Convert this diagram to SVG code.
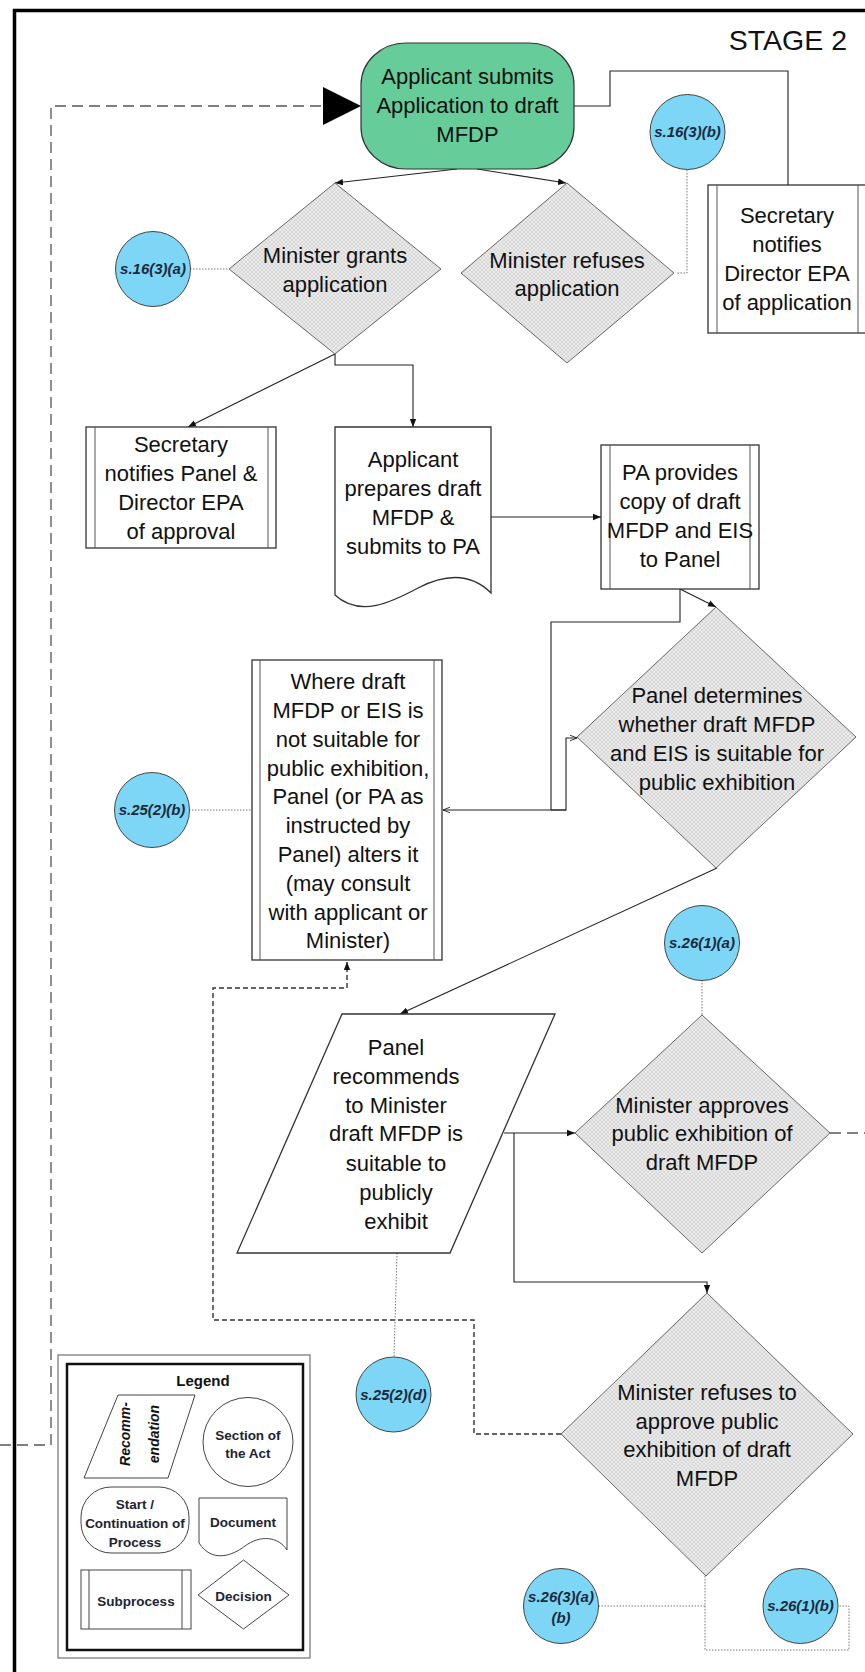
<svg xmlns="http://www.w3.org/2000/svg" width="865" height="1672" viewBox="0 0 865 1672">
<style>
.t{font-family:"Liberation Sans",Arial,sans-serif;font-size:22px;fill:#111;text-anchor:middle}
.sec{font-family:"Liberation Sans",Arial,sans-serif;font-size:15px;font-weight:bold;font-style:italic;fill:#1c2b3c;text-anchor:middle}
.lg{font-family:"Liberation Sans",Arial,sans-serif;font-size:13.5px;font-weight:bold;fill:#1c2435;text-anchor:middle}
.box{fill:#fff;stroke:#333;stroke-width:1.3}
.inner{stroke:#555;stroke-width:1;fill:none}
.dec{fill:url(#hatch);stroke:#666;stroke-width:1}
.circ{fill:#7ED6F7;stroke:#444;stroke-width:1}
.c{fill:none;stroke:#222;stroke-width:1.1}
.dot{fill:none;stroke:#777;stroke-width:1;stroke-dasharray:1.5 1.5}
.dashL{fill:none;stroke:#555;stroke-width:1.3;stroke-dasharray:11 6}
.dashS{fill:none;stroke:#333;stroke-width:1.4;stroke-dasharray:5 3}
</style>
<defs>
<pattern id="hatch" width="4" height="4" patternUnits="userSpaceOnUse">
<rect width="4" height="4" fill="#ebebeb"/>
<path d="M0,0 L4,4 M4,0 L0,4" stroke="#d0d0d0" stroke-width="0.7"/>
</pattern>
<marker id="arr" viewBox="0 0 10 10" refX="10" refY="5" markerWidth="8" markerHeight="8" markerUnits="userSpaceOnUse" orient="auto"><path d="M0,1 L10,5 L0,9 Z" fill="#111"/></marker>
<marker id="open" viewBox="0 0 10 10" refX="10" refY="5" markerWidth="7" markerHeight="7" markerUnits="userSpaceOnUse" orient="auto"><path d="M0,1 L10,5 L0,9" fill="none" stroke="#111" stroke-width="1.2"/></marker>
<marker id="big" viewBox="0 0 10 10" refX="10" refY="5" markerWidth="38" markerHeight="38" markerUnits="userSpaceOnUse" orient="auto"><path d="M0,0 L10,5 L0,10 Z" fill="#000"/></marker>
</defs>
<rect width="865" height="1672" fill="#fff"/>
<path d="M14.5,1672 V10.5 H866" fill="none" stroke="#000" stroke-width="3.5"/>
<text x="847" y="50" style="font-family:'Liberation Sans',Arial,sans-serif;font-size:28.5px;fill:#111;text-anchor:end">STAGE 2</text>

<g id="connectors">
<path class="dashL" d="M0,1445 H51 V106 H361" marker-end="url(#big)"/>
<path class="dashL" d="M830,1133 H866"/>
<path class="dashS" d="M561,1434 H474 V1320 H213 V988 H347 V962" marker-end="url(#arr)"/>
<path class="c" d="M457,169 L335,183" marker-end="url(#arr)"/>
<path class="c" d="M477,169 L566,183" marker-end="url(#arr)"/>
<path class="c" d="M574,106 H610 V71 H788 V185"/>
<path class="c" d="M335,354 L188,427" marker-end="url(#arr)"/>
<path class="c" d="M335,354 V365 H413 V427" marker-end="url(#arr)"/>
<path class="c" d="M491,517 H601" marker-end="url(#arr)"/>
<path class="c" d="M680,589 L716,607" marker-end="url(#arr)"/>
<path class="c" d="M680,589 V622 H551 V810"/>
<path class="c" d="M551,810 H566 V738 H577" marker-end="url(#open)"/>
<path class="c" d="M566,810 H443" marker-end="url(#open)"/>
<path class="c" d="M717,868 L400,1014" marker-end="url(#arr)"/>
<path class="c" d="M504,1133 H575" marker-end="url(#arr)"/>
<path class="c" d="M514,1133 V1282 H707 V1293" marker-end="url(#arr)"/>
<path class="dot" d="M190,269 H229"/>
<path class="dot" d="M687,170 V273 H676"/>
<path class="dot" d="M189,810 H252"/>
<path class="dot" d="M702,980 V1015"/>
<path class="dot" d="M397,1253 L394,1357"/>
<path class="dot" d="M705,1606 H599"/>
<path class="dot" d="M705,1576 V1650 H849 V1606 H838"/>
</g>

<g id="start">
<rect x="361" y="43" width="213" height="126" rx="45" ry="42" fill="#66CC99" stroke="#333" stroke-width="1.2"/>
<text class="t" x="467.5" y="84">Applicant submits</text>
<text class="t" x="467.5" y="113">Application to draft</text>
<text class="t" x="467.5" y="142">MFDP</text>
</g>

<g id="sec-notifies-epa">
<rect class="box" x="708" y="185" width="162" height="148"/>
<path class="inner" d="M717,185 V333 M858,185 V333"/>
<text class="t" x="787" y="223">Secretary</text>
<text class="t" x="787" y="252">notifies</text>
<text class="t" x="787" y="281">Director EPA</text>
<text class="t" x="787" y="310">of application</text>
</g>

<g id="s16-3-b">
<circle class="circ" cx="687.5" cy="132" r="37.5"/>
<text class="sec" x="687.5" y="137">s.16(3)(b)</text>
</g>

<g id="minister-grants">
<polygon class="dec" points="335,183 441,269 335,354 229,269"/>
<text class="t" x="335" y="263">Minister grants</text>
<text class="t" x="335" y="292">application</text>
</g>

<g id="minister-refuses">
<polygon class="dec" points="567,183 674,273 567,363 461,273"/>
<text class="t" x="567" y="268">Minister refuses</text>
<text class="t" x="567" y="296">application</text>
</g>

<g id="s16-3-a">
<circle class="circ" cx="153" cy="269" r="37.5"/>
<text class="sec" x="153" y="274">s.16(3)(a)</text>
</g>

<g id="sec-notifies-panel">
<rect class="box" x="86" y="427" width="190" height="121"/>
<path class="inner" d="M95,427 V548 M268,427 V548"/>
<text class="t" x="181" y="452">Secretary</text>
<text class="t" x="181" y="481">notifies Panel &amp;</text>
<text class="t" x="181" y="510">Director EPA</text>
<text class="t" x="181" y="539">of approval</text>
</g>

<g id="applicant-prepares">
<path class="box" d="M335,427 H491 V593 C470,572 445,574 418,588 C392,602 360,618 335,595 Z"/>
<text class="t" x="413" y="467">Applicant</text>
<text class="t" x="413" y="496">prepares draft</text>
<text class="t" x="413" y="525">MFDP &amp;</text>
<text class="t" x="413" y="554">submits to PA</text>
</g>

<g id="pa-provides">
<rect class="box" x="601" y="445" width="158" height="144"/>
<path class="inner" d="M610,445 V589 M750,445 V589"/>
<text class="t" x="680" y="480">PA provides</text>
<text class="t" x="680" y="509">copy of draft</text>
<text class="t" x="680" y="538">MFDP and EIS</text>
<text class="t" x="680" y="567">to Panel</text>
</g>

<g id="panel-determines">
<polygon class="dec" points="716,607 856,737 716,868 577,737"/>
<text class="t" x="717" y="703">Panel determines</text>
<text class="t" x="717" y="732">whether draft MFDP</text>
<text class="t" x="717" y="761">and EIS is suitable for</text>
<text class="t" x="717" y="790">public exhibition</text>
</g>

<g id="where-draft">
<rect class="box" x="252" y="660" width="190" height="300"/>
<path class="inner" d="M260,660 V960 M434,660 V960"/>
<text class="t" x="348" y="689">Where draft</text>
<text class="t" x="348" y="718">MFDP or EIS is</text>
<text class="t" x="348" y="747">not suitable for</text>
<text class="t" x="348" y="776">public exhibition,</text>
<text class="t" x="348" y="804">Panel (or PA as</text>
<text class="t" x="348" y="833">instructed by</text>
<text class="t" x="348" y="862">Panel) alters it</text>
<text class="t" x="348" y="891">(may consult</text>
<text class="t" x="348" y="920">with applicant or</text>
<text class="t" x="348" y="948">Minister)</text>
</g>

<g id="s25-2-b">
<circle class="circ" cx="152" cy="810" r="37.5"/>
<text class="sec" x="152" y="815">s.25(2)(b)</text>
</g>

<g id="s26-1-a">
<circle class="circ" cx="702" cy="943" r="37.5"/>
<text class="sec" x="702" y="948">s.26(1)(a)</text>
</g>

<g id="panel-recommends">
<polygon class="box" points="342,1014 555,1014 450,1253 237,1253"/>
<text class="t" x="396" y="1055">Panel</text>
<text class="t" x="396" y="1084">recommends</text>
<text class="t" x="396" y="1113">to Minister</text>
<text class="t" x="396" y="1141">draft MFDP is</text>
<text class="t" x="396" y="1171">suitable to</text>
<text class="t" x="396" y="1200">publicly</text>
<text class="t" x="396" y="1229">exhibit</text>
</g>

<g id="minister-approves">
<polygon class="dec" points="702,1015 830,1133 702,1253 575,1133"/>
<text class="t" x="702" y="1113">Minister approves</text>
<text class="t" x="702" y="1141">public exhibition of</text>
<text class="t" x="702" y="1170">draft MFDP</text>
</g>

<g id="minister-refuses-approve">
<polygon class="dec" points="707,1293 853,1434 706,1576 561,1434"/>
<text class="t" x="707" y="1400">Minister refuses to</text>
<text class="t" x="707" y="1429">approve public</text>
<text class="t" x="707" y="1457">exhibition of draft</text>
<text class="t" x="707" y="1486">MFDP</text>
</g>

<g id="s25-2-d">
<circle class="circ" cx="393.5" cy="1394.5" r="37.5"/>
<text class="sec" x="393.5" y="1400">s.25(2)(d)</text>
</g>

<g id="s26-3-ab">
<circle class="circ" cx="561" cy="1606" r="37.5"/>
<text class="sec" x="561" y="1602">s.26(3)(a)</text>
<text class="sec" x="561" y="1623">(b)</text>
</g>

<g id="s26-1-b">
<circle class="circ" cx="800.5" cy="1606" r="37.5"/>
<text class="sec" x="800.5" y="1611">s.26(1)(b)</text>
</g>

<g id="legend">
<rect x="58" y="1355" width="252" height="303" fill="#fff" stroke="#555" stroke-width="1"/>
<rect x="67" y="1364" width="236" height="286" fill="none" stroke="#111" stroke-width="2.5"/>
<text class="lg" x="203" y="1386" style="font-size:15px;fill:#111">Legend</text>
<polygon points="118,1395 195,1395 168,1478 84,1478" fill="#fff" stroke="#444" stroke-width="1"/>
<text class="lg" transform="translate(130,1434) rotate(-90)" x="0" y="0" style="font-style:italic;font-size:14px;fill:#111">Recomm-</text>
<text class="lg" transform="translate(159,1434) rotate(-90)" x="0" y="0" style="font-style:italic;font-size:14px;fill:#111">endation</text>
<ellipse cx="248" cy="1442" rx="45" ry="44.5" fill="#fff" stroke="#444" stroke-width="1"/>
<text class="lg" x="248" y="1440">Section of</text>
<text class="lg" x="248" y="1458">the Act</text>
<rect x="81" y="1487" width="108" height="66" rx="30" ry="30" fill="#fff" stroke="#444" stroke-width="1"/>
<text class="lg" x="135" y="1509">Start /</text>
<text class="lg" x="135" y="1528">Continuation of</text>
<text class="lg" x="135" y="1547">Process</text>
<path d="M199,1498 H287 V1550 C278,1536 260,1535 245,1546 C232,1556 212,1563 199,1543 Z" fill="#fff" stroke="#444" stroke-width="1"/>
<text class="lg" x="243" y="1527">Document</text>
<rect x="81" y="1570" width="110" height="59" fill="#fff" stroke="#444" stroke-width="1"/>
<path d="M89,1570 V1629 M182,1570 V1629" stroke="#444" stroke-width="1"/>
<text class="lg" x="136" y="1606">Subprocess</text>
<polygon points="243.5,1560 289,1595 243.5,1629 198,1595" fill="#fff" stroke="#444" stroke-width="1"/>
<text class="lg" x="243.5" y="1601">Decision</text>
</g>
</svg>
